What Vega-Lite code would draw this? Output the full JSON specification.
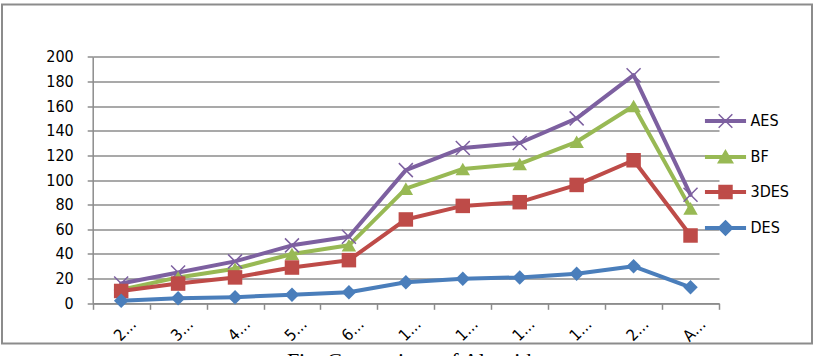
{
  "$schema": "https://vega.github.io/schema/vega-lite/v6.json",
  "width": 810,
  "height": 339,
  "autosize": {"type": "none"},
  "padding": {"left": 2, "top": 4.5, "right": 6, "bottom": 12.5},
  "title": {
    "text": "Fig. Comparison of Algorithms",
    "orient": "bottom",
    "anchor": "middle",
    "font": "Liberation Serif",
    "fontSize": 22,
    "fontWeight": "normal",
    "color": "#000000",
    "offset": 7,
    "dx": 18
  },
  "config": {
    "font": "DejaVu Sans Condensed",
    "view": {"stroke": "#8c8c8c", "strokeWidth": 2}
  },
  "data": {
    "values": [
      {"size": "2 KB", "series": "AES", "time": 16},
      {"size": "3 KB", "series": "AES", "time": 25},
      {"size": "4 KB", "series": "AES", "time": 34},
      {"size": "5 KB", "series": "AES", "time": 47},
      {"size": "6 KB", "series": "AES", "time": 54},
      {"size": "10 KB", "series": "AES", "time": 108},
      {"size": "12 KB", "series": "AES", "time": 126},
      {"size": "14 KB", "series": "AES", "time": 130},
      {"size": "16 KB", "series": "AES", "time": 150},
      {"size": "20 KB", "series": "AES", "time": 185},
      {"size": "Avg", "series": "AES", "time": 88},
      {"size": "2 KB", "series": "BF", "time": 11},
      {"size": "3 KB", "series": "BF", "time": 21},
      {"size": "4 KB", "series": "BF", "time": 28},
      {"size": "5 KB", "series": "BF", "time": 40},
      {"size": "6 KB", "series": "BF", "time": 47},
      {"size": "10 KB", "series": "BF", "time": 93},
      {"size": "12 KB", "series": "BF", "time": 109},
      {"size": "14 KB", "series": "BF", "time": 113},
      {"size": "16 KB", "series": "BF", "time": 131},
      {"size": "20 KB", "series": "BF", "time": 160},
      {"size": "Avg", "series": "BF", "time": 77},
      {"size": "2 KB", "series": "3DES", "time": 10},
      {"size": "3 KB", "series": "3DES", "time": 16},
      {"size": "4 KB", "series": "3DES", "time": 21},
      {"size": "5 KB", "series": "3DES", "time": 29},
      {"size": "6 KB", "series": "3DES", "time": 35},
      {"size": "10 KB", "series": "3DES", "time": 68},
      {"size": "12 KB", "series": "3DES", "time": 79},
      {"size": "14 KB", "series": "3DES", "time": 82},
      {"size": "16 KB", "series": "3DES", "time": 96},
      {"size": "20 KB", "series": "3DES", "time": 116},
      {"size": "Avg", "series": "3DES", "time": 55},
      {"size": "2 KB", "series": "DES", "time": 2},
      {"size": "3 KB", "series": "DES", "time": 4},
      {"size": "4 KB", "series": "DES", "time": 5},
      {"size": "5 KB", "series": "DES", "time": 7},
      {"size": "6 KB", "series": "DES", "time": 9},
      {"size": "10 KB", "series": "DES", "time": 17},
      {"size": "12 KB", "series": "DES", "time": 20},
      {"size": "14 KB", "series": "DES", "time": 21},
      {"size": "16 KB", "series": "DES", "time": 24},
      {"size": "20 KB", "series": "DES", "time": 30},
      {"size": "Avg", "series": "DES", "time": 13}
    ]
  },
  "encoding": {
    "x": {
      "field": "size",
      "type": "ordinal",
      "sort": null,
      "scale": {"type": "band", "range": [90.7, 717], "paddingInner": 0, "paddingOuter": 0},
      "axis": {
        "title": null,
        "offset": -40.2,
        "grid": false,
        "tickBand": "extent",
        "tickSize": 6,
        "tickColor": "#8c8c8c",
        "tickWidth": 1.5,
        "domainColor": "#8c8c8c",
        "domainWidth": 1.5,
        "labelAngle": -45,
        "labelAlign": "right",
        "labelBaseline": "middle",
        "labelPadding": 12,
        "labelOffset": 12,
        "labelFontSize": 16,
        "labelColor": "#000000",
        "labelExpr": "datum.label ? substring(datum.label, 0, 1) + '…' : ''"
      }
    },
    "y": {
      "field": "time",
      "type": "quantitative",
      "scale": {"domain": [0, 200], "range": [298.8, 52.2], "nice": false, "zero": true},
      "axis": {
        "title": null,
        "offset": -90.7,
        "values": [0, 20, 40, 60, 80, 100, 120, 140, 160, 180, 200],
        "grid": true,
        "gridColor": "#8c8c8c",
        "gridWidth": 1.5,
        "tickSize": 5.5,
        "tickColor": "#8c8c8c",
        "tickWidth": 1.5,
        "domainColor": "#8c8c8c",
        "domainWidth": 1.5,
        "labelPadding": 14,
        "labelFontSize": 16,
        "labelColor": "#000000"
      }
    }
  },
  "layer": [
    {
      "mark": {"type": "line", "strokeWidth": 4, "strokeJoin": "round", "strokeCap": "round"},
      "encoding": {
        "color": {
          "field": "series",
          "type": "nominal",
          "scale": {
            "domain": ["AES", "BF", "3DES", "DES"],
            "range": ["#7D60A0", "#98B954", "#BE4B48", "#4A7EBB"]
          },
          "legend": {
            "title": null,
            "orient": "none",
            "legendX": 704.5,
            "legendY": 97.5,
            "padding": 0,
            "symbolSize": 1296,
            "symbolStrokeWidth": 1.5,
            "rowPadding": 7,
            "labelOffset": 6,
            "labelFontSize": 16,
            "labelColor": "#000000",
            "encode": {
              "symbols": {
                "update": {
                  "shape": {"signal": "datum.value === 'AES' ? 'M-1.1,-0.07H1.1V0.07H-1.1Z M-0.38,-0.38L0.38,0.38 M-0.38,0.38L0.38,-0.38' : datum.value === 'BF' ? 'M-1.1,-0.07H1.1V0.07H-1.1Z M0,-0.36L0.4,0.32L-0.4,0.32Z' : datum.value === '3DES' ? 'M-1.1,-0.07H1.1V0.07H-1.1Z M-0.36,-0.36H0.36V0.36H-0.36Z' : 'M-1.1,-0.07H1.1V0.07H-1.1Z M0,-0.4L0.4,0L0,0.4L-0.4,0Z'"},
                  "fill": {"scale": "color", "field": "value"},
                  "stroke": {"scale": "color", "field": "value"},
                  "strokeWidth": {"value": 1.5},
                  "size": {"value": 1296}
                }
              }
            }
          }
        }
      }
    },
    {
      "transform": [{"filter": "datum.series === 'AES'"}],
      "mark": {"type": "point", "shape": "M-1,-1L1,1M-1,1L1,-1", "filled": false, "size": 196, "strokeWidth": 1.5, "opacity": 1},
      "encoding": {
        "color": {"field": "series", "type": "nominal"}
      }
    },
    {
      "transform": [{"filter": "datum.series !== 'AES'"}],
      "mark": {"type": "point", "filled": true, "size": 210, "opacity": 1},
      "encoding": {
        "color": {"field": "series", "type": "nominal"},
        "shape": {
          "field": "series",
          "type": "nominal",
          "scale": {"domain": ["BF", "3DES", "DES"], "range": ["triangle-up", "square", "diamond"]},
          "legend": null
        }
      }
    }
  ]
}
